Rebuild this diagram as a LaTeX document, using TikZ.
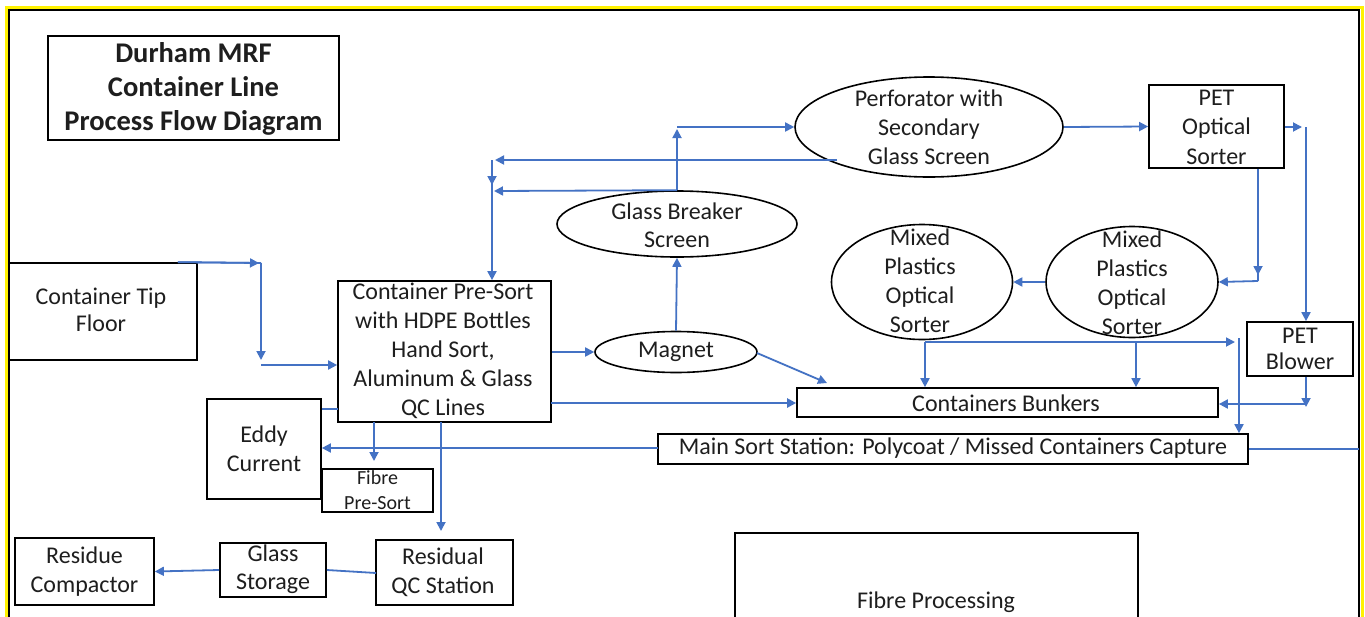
\documentclass[tikz,border=0pt]{standalone}
\usepackage{fontspec}
\setmainfont{Carlito}
\usetikzlibrary{arrows.meta,shapes.geometric}
\definecolor{fblue}{HTML}{4472C4}
\definecolor{txt}{HTML}{1E1E1E}
\tikzset{
  box/.style={draw=black, line width=1.7pt, inner sep=0pt},
  oval/.style={ellipse, draw=black, line width=1.6pt, inner sep=0pt},
  lbl/.style={align=center, inner sep=0pt, text=txt, font=\fontsize{24}{29}\selectfont},
  small/.style={lbl, font=\fontsize{20}{25}\selectfont},
  flow/.style={draw=fblue, line width=1.8pt},
  arr/.style={flow, -{Triangle[length=9pt,width=9pt]}},
}
\begin{document}
\begin{tikzpicture}[x=1pt,y=-1pt]
\useasboundingbox (0,0) rectangle (1365,616);
\fill[white] (0,0) rectangle (1365,616);
\draw[yellow, line width=3pt] (6.5,7.5) rectangle (1362.5,660);
\draw[black, line width=2pt] (9,10) rectangle (1359,660);

% title
\node[box, minimum width=291, minimum height=104] (title) at (193.5,88) {};
\node[lbl, font=\fontsize{28.5}{34}\selectfont\bfseries] (titlet) at (193.5,89) {Durham MRF\\Container Line\\Process Flow Diagram};

% boxes
\node[box, minimum width=188, minimum height=97] (tip) at (103,311.5) {};
\node[lbl, font=\fontsize{24}{27}\selectfont] (tipt) at (101,310) {Container Tip\\Floor};
\node[box, minimum width=213, minimum height=141] (presort) at (444.5,351.5) {};
\node[lbl] (presortt) at (443,351) {Container Pre-Sort\\with HDPE Bottles\\Hand Sort,\\Aluminum \& Glass\\QC Lines};
\node[box, minimum width=114, minimum height=100] (eddy) at (264,449) {};
\node[lbl] (eddyt) at (264,449) {Eddy\\Current};
\node[box, minimum width=111, minimum height=43] (fibre) at (377.5,490.5) {};
\node[small] (fibret) at (377.5,490) {Fibre\\Pre-Sort};
\node[box, minimum width=137, minimum height=65] (resqc) at (444.5,572.5) {};
\node[lbl] (resqct) at (443,572) {Residual\\QC Station};
\node[box, minimum width=106, minimum height=54] (glass) at (273,570) {};
\node[lbl, font=\fontsize{24}{28}\selectfont] (glasst) at (273,569) {Glass\\Storage};
\node[box, minimum width=139, minimum height=67] (compact) at (84.5,571.5) {};
\node[lbl] (compactt) at (84.5,572) {Residue\\Compactor};
\node[box, minimum width=135, minimum height=83] (pet) at (1216.5,126.5) {};
\node[lbl, font=\fontsize{24}{29.5}\selectfont] (pett) at (1216.5,127) {PET\\Optical\\Sorter};
\node[box, minimum width=106, minimum height=54] (blower) at (1300,349) {};
\node[lbl, font=\fontsize{24}{26}\selectfont] (blowert) at (1300,349) {PET\\Blower};
\node[box, minimum width=421, minimum height=29] (bunk) at (1007.5,402.5) {};
\node[lbl] (bunkt) at (1006,403) {Containers Bunkers};
\node[box, minimum width=590, minimum height=30] (main) at (953,449) {};
\node[lbl] (maint) at (953,448) {Main Sort Station: Polycoat / Missed Containers Capture};
\node[box, minimum width=403, minimum height=138] (fproc) at (936.5,602) {};
\node[lbl] (fproct) at (936,602) {Fibre Processing};

% ellipses
\node[oval, minimum width=162, minimum height=41] (magnet) at (676,352) {};
\node[lbl] (magnett) at (676,352) {Magnet};
\node[oval, minimum width=240, minimum height=66] (gbs) at (677,224) {};
\node[lbl, font=\fontsize{24}{28}\selectfont] (gbst) at (677,225) {Glass Breaker\\Screen};
\node[oval, minimum width=268, minimum height=100] (perf) at (929,127) {};
\node[lbl] (perft) at (929,127) {Perforator with\\Secondary\\Glass Screen};
\node[oval, minimum width=172, minimum height=111] (mp2) at (1132,282) {};
\node[lbl] (mp2t) at (1132,283) {Mixed\\Plastics\\Optical\\Sorter};
\node[oval, minimum width=181, minimum height=115] (mp1) at (922,282) {};
\node[lbl] (mp1t) at (920,281) {Mixed\\Plastics\\Optical\\Sorter};

% connectors
\coordinate (a1) at (259,263);
\coordinate (a2) at (261,263);
\coordinate (a3) at (261,360);
\coordinate (a4) at (261,365);
\draw[flow] ([xshift=-20pt]tip.north east) -- (a2);
\draw[arr] ([xshift=-20pt]tip.north east) -- (a1);
\draw[arr] (a2) -- (a3);
\draw[arr] (a4) -- (presort.west |- a4);

\draw[arr] (presort.east |- magnet.west) -- (magnet.west);
\draw[arr] (magnet.north) -- (gbs.south);
\coordinate (g1) at (677,129);
\coordinate (g2) at (677,127);
\draw[arr] (gbs.north) -- (g1);
\draw[arr] (g2) -- (perf.west);
\coordinate (l1) at (494,191);
\draw[arr] (gbs.north) -- (l1);
\coordinate (p1) at (837,160);
\coordinate (p2) at (495,160);
\coordinate (p3) at (492,160);
\coordinate (p4) at (492,185);
\coordinate (p5) at (492,191);
\draw[arr] (p1) -- (p2);
\draw[flow] (p3) -- (p5);
\draw[arr] (p3) -- (p4);
\draw[arr] (p5) -- (presort.north -| p5);

\draw[arr] (perf.east) -- (pet.west);
\coordinate (e1) at (1302,127);
\coordinate (e2) at (1306,127);
\draw[arr] (pet.east |- e1) -- (e1);
\draw[arr] (e2) -- (blower.north -| e2);
\coordinate (s1) at (1258,275);
\coordinate (s2) at (1258,281);
\draw[flow] (pet.south -| s1) -- (s2);
\draw[arr] (pet.south -| s1) -- (s1);
\draw[arr] (s2) -- (mp2.east);
\draw[arr] (mp2.west) -- (mp1.east);

\coordinate (m1) at (925,342);
\coordinate (m2) at (1235,342);
\coordinate (m3) at (1136,342);
\draw[arr] (m1) -- (m2);
\draw[arr] (m1) -- (bunk.north -| m1);
\draw[arr] (m3) -- (bunk.north -| m3);
\coordinate (v1) at (1239,338);
\draw[arr] (v1) -- (main.north -| v1);
\coordinate (b1) at (1306,407);
\coordinate (b2) at (1306,404);
\draw[flow] (blower.south -| b2) -- (b2);
\draw[arr] (blower.south -| b1) -- (b1);
\draw[arr] (b2) -- (bunk.east |- b2);

\coordinate (d1) at (757,353);
\coordinate (d2) at (827,383);
\draw[arr] (d1) -- (d2);
\coordinate (q1) at (551,403);
\draw[arr, line width=2.2pt] (q1) -- (bunk.west |- q1);
\coordinate (q2) at (338,409);
\draw[flow] (q2) -- (eddy.east |- q2);
\coordinate (r1) at (374,422);
\coordinate (r2) at (374,461);
\draw[arr] (r1) -- (r2);
\coordinate (h1) at (658,448);
\draw[arr] (h1) -- (eddy.east |- h1);
\coordinate (t1) at (441,422);
\coordinate (t2) at (441,531);
\draw[arr] (t1) -- (t2);
\coordinate (u1) at (376,573);
\draw[flow] (u1) -- (glass.east);
\draw[arr] (glass.west) -- (compact.east);
\coordinate (w1) at (1359,449);
\draw[flow, line width=2.2pt] (main.east) -- (w1);
\end{tikzpicture}
\end{document}
